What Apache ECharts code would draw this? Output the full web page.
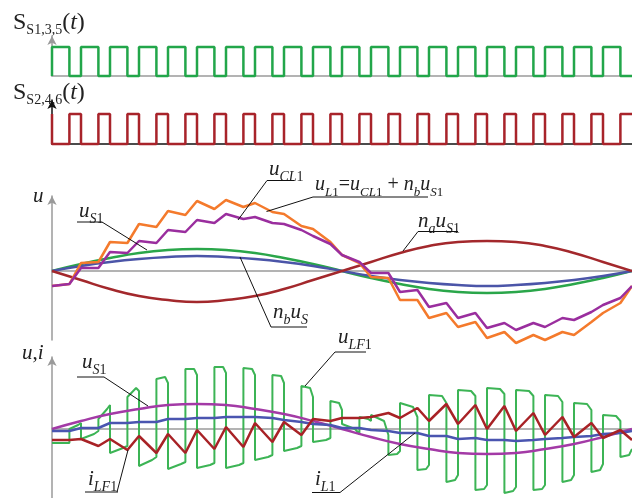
<!DOCTYPE html>
<html><head><meta charset="utf-8">
<script src="https://cdn.jsdelivr.net/npm/echarts@6/dist/echarts.min.js"></script>
<style>html,body{margin:0;padding:0;background:#fff}#c{width:632px;height:498px}</style>
</head><body><div id="c"></div>
<script>
// time unit: one switching period (20 per line cycle)
const tEnd = 20;
const s135On  = [0,1,2,3,4,5,6,7,8,9,10,11,12,13,14,15,16,17,18,19];
const s135Off = [0.6,1.6,2.6,3.6,4.6,5.6,6.6,7.6,8.6,9.6,10.6,11.6,12.6,13.6,14.6,15.6,16.6,17.6,18.6,19.6];
const tGrid = [0,0.6,1,1.6,2,2.6,3,3.6,4,4.6,5,5.6,6,6.6,7,7.6,8,8.6,9,9.6,10,10.6,11,11.6,12,12.6,13,13.6,14,14.6,15,15.6,16,16.6,17,17.6,18,18.6,19,19.6,20];
const tSine = [0,1,2,3,4,5,6,7,8,9,10,11,12,13,14,15,16,17,18,19,20];

// middle panel
const uS1Mid  = [0,7,13,18,21,22,21,18,13,7,0,-7,-13,-18,-21,-22,-21,-18,-13,-7,0];
const nbuS    = [0,5,9,12,14,15,14,12,9,5,0,-5,-9,-12,-14,-15,-14,-12,-9,-5,0];
const nauS1   = [0,-9,-18,-25,-29,-31,-29,-25,-18,-9,0,9,18,25,29,30,29,25,18,9,0];
const uCL1 = [-15,-13,8,9,29,28,47,44,60,56,70,62,71,64,68,59,57,45,42,29,16,8,-6,-7,-29,-29,-47,-42,-56,-51,-67,-61,-72,-64,-69,-61,-64,-51,-42,-32,-15];
const uL1  = [-15,-13,3,3,19,18,30,28,41,39,51,48,57,52,54,48,47,41,35,27,16,9,-2,-2,-21,-19,-36,-32,-47,-42,-57,-52,-59,-52,-56,-47,-49,-41,-34,-27,-15];

// bottom panel
const uS1Bot = [0,8,15,20,24,25,24,20,15,8,0,-8,-15,-20,-24,-25,-24,-20,-15,-8,0];
const iL1  = [-2,-2,1,1,6,6,7,7,10,10,11,11,12,12,12,11,9,7,5,4,1,1,-1,-2,-4,-4,-7,-7,-10,-9,-11,-11,-12,-11,-10,-9,-8,-7,-5,-4,-2];
const iLF1 = [-11,-11,-10,-17,-10,-21,-7,-24,-5,-24,-1,-20,2,-18,6,-13,7,-6,10,8,11,11,12,16,11,21,8,25,5,24,0,23,-2,16,-6,12,-8,6,-9,-1,-11];
// u_LF1: start / knee (75 %) / end values of the S1 interval and of the S2 interval of each period
const lfOnStart  = [-14,-10,-24,-37,-40,-39,-39,-31,-22,-13,  5,14,26,34,39,41,39,34,26,14];
const lfOnKnee   = [-14,-5,-19,-31,-35,-36,-36,-28,-19,-11,  0, 8,22,33,38,40,38,33,25,13];
const lfOnEnd    = [-14,-2,-17,-28,-33,-34,-34,-26,-17,-9,  -5,-6,12,26,33,35,33,27,19,8];
const lfOffStart = [0,10,32,50,60,62,61,54,43,28,  12,-26,-41,-53,-61,-64,-61,-53,-43,-28];
const lfOffKnee  = [4,20,41,52,60,62,60,53,41,26,  10,-25,-40,-51,-60,-62,-60,-51,-41,-26];
const lfOffEnd   = [6,24,38,46,54,56,54,46,32,19,  8,-22,-36,-46,-56,-58,-56,-46,-35,-20];

const sqG = [], sqR = [], lf = [];
for (let k = 0; k < s135On.length; k++) {
  const on = s135On[k], off = s135Off[k];
  const nxt = k + 1 < s135On.length ? s135On[k+1] : tEnd;
  sqG.push([on,0],[on,1],[off,1],[off,0]);
  sqR.push([on,1],[on,0],[off,0],[off,1]);
  lf.push([on,lfOnStart[k]],[on+(off-on)*0.75,lfOnKnee[k]],[off,lfOnEnd[k]],
          [off,lfOffStart[k]],[off+(nxt-off)*0.75,lfOffKnee[k]],[nxt,lfOffEnd[k]]);
}
sqG.push([tEnd,0]); sqR.push([tEnd,1]);
const pair = (t, v) => t.map((x,i) => [x, v[i]]);

const AX = '#9a9a9a';
function xAx(i, color){ return {gridIndex:i,type:'value',min:0,max:tEnd,show:true,
  axisLine:{show:true,onZero:true,lineStyle:{color:color||AX,width:1.5}},axisTick:{show:false},axisLabel:{show:false},splitLine:{show:false}}; }
function yAx(i, mn, mx, color){ return {gridIndex:i,type:'value',min:mn,max:mx,
  axisLine:{show:true,symbol:['none','arrow'],symbolSize:[7,9],lineStyle:{color:color||AX,width:1.5}},
  axisTick:{show:false},axisLabel:{show:false},splitLine:{show:false}}; }
function ln(i, data, color, w, smooth, z){ return {type:'line',xAxisIndex:i,yAxisIndex:i,data:data,
  showSymbol:false,smooth:smooth||false,clip:false,z:z||2,lineStyle:{color:color,width:w},animation:false}; }

const FF = '"Liberation Serif","DejaVu Serif",serif';
const rich = {
  i:{fontFamily:FF,fontSize:21,fontStyle:'italic',lineHeight:24,verticalAlign:'top',fill:'#222'},
  r:{fontFamily:FF,fontSize:21,lineHeight:24,verticalAlign:'top',fill:'#222'},
  si:{fontFamily:FF,fontSize:14,fontStyle:'italic',lineHeight:14,padding:[11,0,0,0],verticalAlign:'top',fill:'#222'},
  sr:{fontFamily:FF,fontSize:14,lineHeight:14,padding:[11,0,0,0],verticalAlign:'top',fill:'#222'},
  fi:{fontFamily:FF,fontSize:20,fontStyle:'italic',lineHeight:24,verticalAlign:'top',fill:'#222'},
  fr:{fontFamily:FF,fontSize:20,lineHeight:24,verticalAlign:'top',fill:'#222'},
  fsi:{fontFamily:FF,fontSize:13,fontStyle:'italic',lineHeight:13,padding:[11,0,0,0],verticalAlign:'top',fill:'#222'},
  fsr:{fontFamily:FF,fontSize:13,lineHeight:13,padding:[11,0,0,0],verticalAlign:'top',fill:'#222'},
  R:{fontFamily:FF,fontSize:24,lineHeight:26,verticalAlign:'top',fill:'#222'},
  RI:{fontFamily:FF,fontSize:24,fontStyle:'italic',lineHeight:26,verticalAlign:'top',fill:'#222'},
  RS:{fontFamily:FF,fontSize:14,lineHeight:14,padding:[12,0,0,0],verticalAlign:'top',fill:'#222'}
};
function txt(x, base, s){ return {type:'text',x:x,y:base-19,z:50,style:{text:s,rich:rich,verticalAlign:'top',align:'left'}}; }
function seg(x1,y1,x2,y2){ return {type:'line',z:50,shape:{x1:x1,y1:y1,x2:x2,y2:y2},style:{stroke:'#111',lineWidth:1}}; }

const graphics = [
  txt(13, 30, '{R|S}{RS|S1,3,5}{R|(}{RI|t}{R|)}'),
  txt(13, 100, '{R|S}{RS|S2,4,6}{R|(}{RI|t}{R|)}'),
  txt(33, 205, '{i|u}'),
  txt(22, 362, '{i|u}{r|,}{i|i}'),
  txt(269, 178, '{i|u}{si|CL}{sr|1}'), seg(267,180.5,294,180.5), seg(267,180.5,238,220),
  txt(315, 194, '{fi|u}{fsi|L}{fsr|1}{fr|=}{fi|u}{fsi|CL}{fsr|1}{fr| + }{fi|n}{fsi|b}{fi|u}{fsi|S}{fsr|1}'), seg(313,197,428,197), seg(313,197,266.5,211.5),
  txt(418, 230, '{i|n}{si|a}{i|u}{si|S}{sr|1}'), seg(418,231.5,458,231.5), seg(418,231.5,403,251),
  txt(79, 220, '{i|u}{si|S}{sr|1}'), seg(77,222,102,222), seg(102,222,147,250),
  txt(273, 321, '{i|n}{si|b}{i|u}{si|S}'), seg(271,327,307,327), seg(271,327,240,257),
  txt(338, 346, '{i|u}{si|LF}{sr|1}'), seg(335,352,366,352), seg(335,352,305,386),
  txt(82, 371, '{i|u}{si|S}{sr|1}'), seg(77,377,104,377), seg(104,377,148,406),
  txt(88, 488, '{i|i}{si|LF}{sr|1}'), seg(85,492,118,492), seg(117,492,128,450),
  txt(315, 488, '{i|i}{si|L}{sr|1}'), seg(312,492.5,340,492.5), seg(340,492.5,415,433)
];

const option = {
  animation:false,
  grid:[
    {left:52,right:0,top:36,height:40},
    {left:52,right:0,top:100,height:44},
    {left:52,right:0,top:196,height:144},
    {left:52,right:0,top:357,height:141}
  ],
  xAxis:[xAx(0), xAx(1,'#111'), xAx(2), xAx(3)],
  yAxis:[yAx(0,0,40/29), yAx(1,0,44/30,'#111'), yAx(2,-69,75), yAx(3,-69,72)],
  series:[
    ln(0, sqG, '#22a64a', 2.5),
    ln(1, sqR, '#a8232a', 2.5),
    ln(2, pair(tSine, uS1Mid), '#2aa64a', 2.5, true),
    ln(2, pair(tSine, nbuS), '#4b55a8', 2.5, true),
    ln(2, pair(tSine, nauS1), '#a3282c', 2.5, true),
    ln(2, pair(tGrid, uCL1), '#f47a2c', 2.5),
    ln(2, pair(tGrid, uL1), '#9a2e9e', 2.5),
    ln(3, lf, '#3cb455', 2),
    ln(3, pair(tSine, uS1Bot), '#a33aa6', 2.5, true),
    ln(3, pair(tGrid, iL1), '#4a55b0', 2.5),
    ln(3, pair(tGrid, iLF1), '#a82226', 2.5)
  ],
  graphic: graphics
};
echarts.init(document.getElementById('c'), null, {renderer:'canvas'}).setOption(option);
</script></body></html>
